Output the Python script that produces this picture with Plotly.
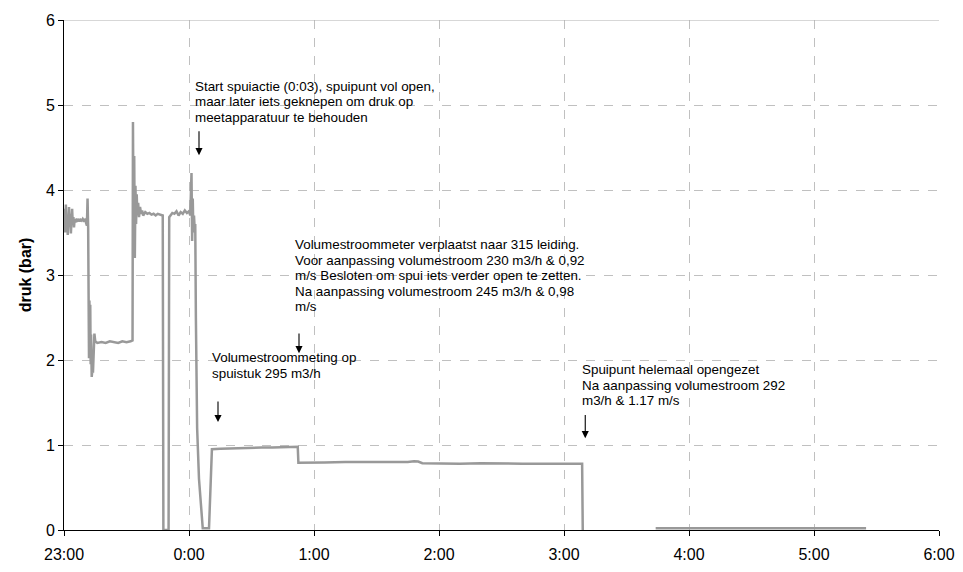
import plotly.graph_objects as go

# time in minutes after 23:00, pressure in bar
minutes = [
    0.0, 0.3, 0.6, 0.9, 1.2, 1.5, 1.8, 2.1, 2.4, 2.7, 3.0, 3.3, 3.6, 3.9, 4.2, 4.5, 4.8, 5.1,
    5.5, 6.0, 6.5, 7.0, 7.5, 8.0, 8.5, 9.0, 9.5, 10.0, 10.5, 11.0, 11.3, 11.6,
    12.0, 12.2, 12.4, 12.6, 12.8, 13.0, 13.3, 13.6, 13.9, 14.2, 14.6, 15.0,
    16, 18, 20, 22, 24, 26, 28, 30, 32, 32.9,
    33.1, 33.4, 33.7, 34.0, 34.3, 34.6, 34.9, 35.2, 35.6, 36.0, 36.5, 37.0, 37.5,
    38, 39, 40, 41, 42, 43, 44, 45, 46, 47.0, 47.4, 47.7, 50.2, 50.5,
    51, 52, 53, 54, 55, 56, 57, 58, 59, 60, 60.6, 61.2, 61.5, 61.8, 62.1, 62.4, 62.7,
    63.0, 63.3, 63.9, 64.8, 65.7, 66.6, 69.6, 70.8,
    71, 75, 80, 85, 90, 95, 100, 105, 110, 112.2, 112.5,
    115, 125, 135, 145, 155, 165, 168, 170, 172,
    180, 190, 200, 210, 220, 230, 240, 248.7, 249.0, 249.1,
    284, 300, 320, 340, 360, 385,
]
pressure = [
    3.62, 3.78, 3.50, 3.83, 3.55, 3.70, 3.47, 3.66, 3.80, 3.58, 3.72, 3.49, 3.64, 3.78, 3.60, 3.68, 3.56, 3.66,
    3.62, 3.65, 3.64, 3.66, 3.63, 3.65, 3.64, 3.66, 3.64, 3.65, 3.62, 3.58, 3.90, 3.55,
    2.02, 2.70, 2.05, 2.65, 1.95, 2.30, 1.80, 1.88, 1.85, 2.00, 2.31, 2.22,
    2.20, 2.21, 2.20, 2.22, 2.21, 2.20, 2.22, 2.21, 2.22, 2.23,
    4.80, 3.50, 4.40, 3.20, 4.05, 3.60, 3.95, 3.70, 3.85, 3.68, 3.80, 3.72, 3.76,
    3.70, 3.74, 3.72, 3.73, 3.71, 3.72, 3.70, 3.72, 3.71, 3.70, 3.70, 0.0, 0.0, 3.68,
    3.70, 3.73, 3.72, 3.75, 3.70, 3.74, 3.72, 3.76, 3.73, 3.75, 3.70, 4.20, 3.40, 3.90, 3.50, 3.70, 3.55,
    3.60, 2.50, 1.20, 0.60, 0.25, 0.02, 0.02, 0.95,
    0.95, 0.955, 0.96, 0.96, 0.965, 0.97, 0.97, 0.975, 0.975, 0.98, 0.79,
    0.79, 0.795, 0.80, 0.80, 0.80, 0.80, 0.81, 0.805, 0.785,
    0.78, 0.78, 0.785, 0.78, 0.78, 0.78, 0.78, 0.78, 0.0, None,
    0.02, 0.02, 0.02, 0.02, 0.02, 0.02,
]

tick_hours = [0, 1, 2, 3, 4, 5, 6, 7]
tick_labels = ["23:00", "0:00", "1:00", "2:00", "3:00", "4:00", "5:00", "6:00"]

notes = [
    # (x hours, top y, arrow x, arrow tail y, arrow tip y, lines)
    (1.032, 5.33, 1.08, 4.71, 4.41,
     ["Start spuiactie (0:03), spuipunt vol open,",
      "maar later iets geknepen om druk op",
      "meetapparatuur te behouden"]),
    (1.168, 2.14, 1.232, 1.53, 1.27,
     ["Volumestroommeting op",
      "spuistuk 295 m3/h"]),
    (1.832, 3.47, 1.88, 2.33, 2.08,
     ["Volumestroommeter verplaatst naar 315 leiding.",
      "Voor aanpassing volumestroom 230 m3/h & 0,92",
      "m/s Besloten om spui iets verder open te zetten.",
      "Na aanpassing volumestroom 245 m3/h & 0,98",
      "m/s"]),
    (4.13, 2.0, 4.17, 1.37, 1.08,
     ["Spuipunt helemaal opengezet",
      "Na aanpassing volumestroom 292",
      "m3/h & 1.17 m/s"]),
]

hours = [m / 60.0 for m in minutes]

fig = go.Figure()
fig.add_trace(go.Scatter(
    x=hours, y=pressure, mode="lines",
    line=dict(color="#999999", width=2.5),
    connectgaps=False, showlegend=False,
))

FONT = "Liberation Sans, Arial, sans-serif"
line_step = 15.5 / 85.0  # one text line in data units

annotations = []
for (tx, ty, axx, ay0, ay1, lines) in notes:
    for i, ln in enumerate(lines):
        annotations.append(dict(
            x=tx, y=ty - i * line_step, xref="x", yref="y",
            text=ln, showarrow=False, xanchor="left", yanchor="top",
            font=dict(family=FONT, size=13.4, color="#000000"),
        ))
    annotations.append(dict(
        x=axx, y=ay1, ax=axx, ay=ay0, xref="x", yref="y", axref="x", ayref="y",
        text="", showarrow=True, arrowhead=2, arrowsize=1.3, arrowwidth=1.1,
        arrowcolor="#000000",
    ))

fig.update_layout(
    width=963, height=572,
    margin=dict(l=56, r=32, t=12, b=50, autoexpand=False),
    paper_bgcolor="white", plot_bgcolor="white",
    font=dict(family=FONT, size=16, color="#000000"),
    annotations=annotations,
    shapes=[dict(type="line", xref="paper", yref="y", x0=0, x1=1, y0=6, y1=6,
                 line=dict(color="#b0b0b0", width=1))],
    xaxis=dict(
        range=[0, 7], tickvals=tick_hours, ticktext=tick_labels,
        showgrid=True, gridcolor="#c0c0c0", griddash="dash", gridwidth=1,
        showline=True, linecolor="#000000", linewidth=1,
        ticks="outside", ticklen=5, tickcolor="#000000", ticklabelstandoff=5,
        zeroline=False, tickfont=dict(size=16), automargin=False,
    ),
    yaxis=dict(
        range=[0, 6], tickvals=[0, 1, 2, 3, 4, 5, 6],
        showgrid=True, gridcolor="#c0c0c0", griddash="dash", gridwidth=1,
        showline=True, linecolor="#000000", linewidth=1,
        ticks="outside", ticklen=5, tickcolor="#000000",
        zeroline=False, tickfont=dict(size=16), automargin=False,
        title=dict(text="<b>druk (bar)</b>", font=dict(size=16), standoff=10),
    ),
)

fig.write_html("out.html")
